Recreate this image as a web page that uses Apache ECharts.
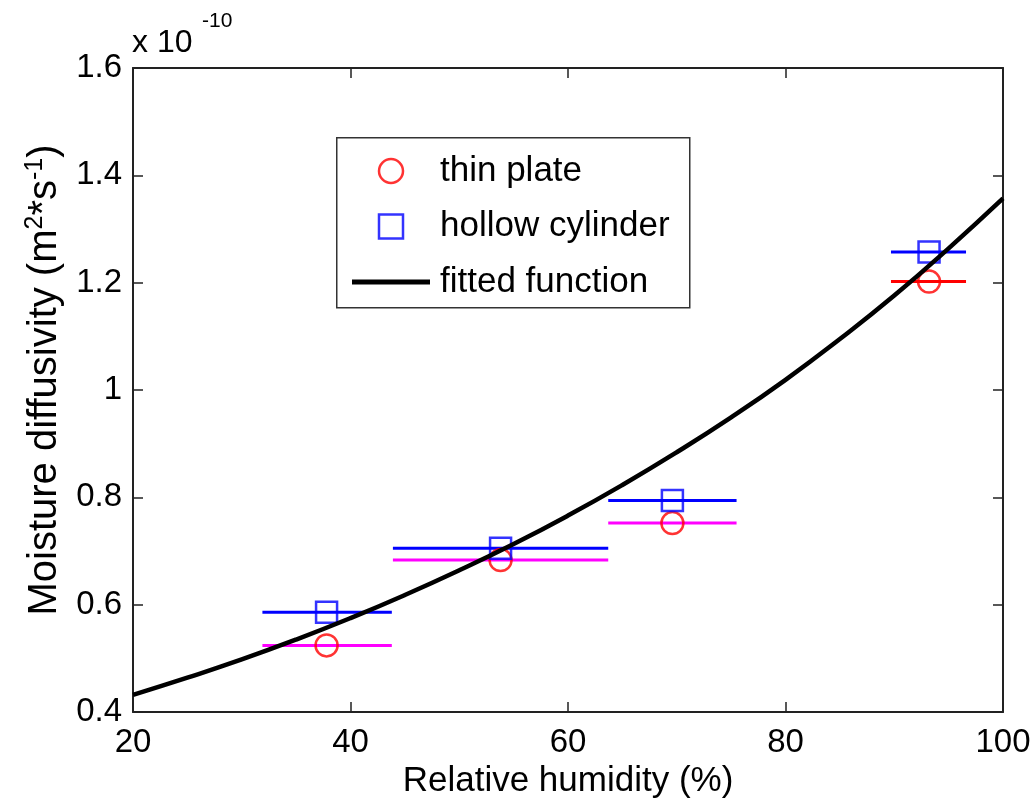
<!DOCTYPE html>
<html>
<head>
<meta charset="utf-8">
<script src="https://cdn.jsdelivr.net/npm/echarts@6/dist/echarts.min.js"></script>
<style>
html,body{margin:0;padding:0;background:#fff;}
#chart{width:1036px;height:801px;}
</style>
</head>
<body>
<div id="chart"></div>
<script>
// ---- data (values in units of 1e-10 m^2/s) ----
const thinX = [37.8, 53.8, 69.6, 93.2];
const thinY = [0.524, 0.683, 0.752, 1.202];
const thinLo = [31.9, 43.9, 63.7, 89.7];
const thinHi = [43.8, 63.7, 75.5, 96.6];

const hollowX = [37.8, 53.8, 69.6, 93.2];
const hollowY = [0.586, 0.705, 0.794, 1.257];
const hollowLo = [31.9, 43.9, 63.7, 89.7];
const hollowHi = [43.8, 63.7, 75.5, 96.6];

const fitX = [20, 25, 30, 35, 40, 45, 50, 55, 60, 65, 70, 75, 80, 85, 90, 95, 100];
const fitY = [0.432, 0.464, 0.498, 0.535, 0.575, 0.618, 0.664, 0.713, 0.766, 0.823, 0.884, 0.949, 1.019, 1.095, 1.176, 1.264, 1.357];

const seriesNames = ['thin plate', 'hollow cylinder', 'fitted function'];
const xTitle = 'Relative humidity (%)';
const yTitle = 'Moisture diffusivity (m{s|2}*s{s|-1})';

// ---- chart ----
const FONT = 'Liberation Sans, Arial, Helvetica, sans-serif';
const thinBarColors = ['#ff00ff', '#ff00ff', '#ff00ff', '#ff0000'];
const hollowBarColor = '#0000ff';

function errData(lo, hi, y) { return y.map((v, i) => [lo[i], hi[i], v]); }
function pairs(x, y) { return x.map((v, i) => [v, y[i]]); }

function errRender(colorFn) {
  return function (params, api) {
    const a = api.coord([api.value(0), api.value(2)]);
    const b = api.coord([api.value(1), api.value(2)]);
    return {
      type: 'line',
      shape: { x1: a[0], y1: a[1], x2: b[0], y2: b[1] },
      style: { stroke: colorFn(params.dataIndex), lineWidth: 3 }
    };
  };
}

const axisLine = { show: true, lineStyle: { color: '#222', width: 2 } };
const tick = { show: true, inside: true, length: 10, lineStyle: { color: '#222', width: 1.5 } };

const chart = echarts.init(document.getElementById('chart'));
chart.setOption({
  animation: false,
  backgroundColor: '#fff',
  grid: { left: 133, right: 33, top: 68, bottom: 89, containLabel: false, outerBoundsMode: 'none' },
  xAxis: [{
    type: 'value', min: 20, max: 100, interval: 20,
    axisLine, axisTick: tick, splitLine: { show: false },
    axisLabel: { color: '#000', fontSize: 33, fontFamily: FONT, margin: 14 },
    name: xTitle, nameLocation: 'middle', nameGap: 47,
    nameTextStyle: { color: '#000', fontSize: 35, fontFamily: FONT }
  }, {
    type: 'value', position: 'top', min: 20, max: 100, interval: 20,
    axisLine, axisTick: tick, axisLabel: { show: false }, splitLine: { show: false }
  }],
  yAxis: [{
    type: 'value', min: 0.4, max: 1.6, interval: 0.2,
    axisLine, axisTick: tick, splitLine: { show: false },
    axisLabel: { color: '#000', fontSize: 33, fontFamily: FONT, margin: 11,
      formatter: v => String(+v.toFixed(1)) },
    name: yTitle, nameLocation: 'middle', nameGap: 64,
    nameTextStyle: { color: '#000', fontSize: 40, fontFamily: FONT, padding: [0, 0, 0, 20],
      rich: { s: { fontSize: 25, fontFamily: FONT, color: '#000', verticalAlign: 'bottom', padding: [0, 0, 20, 0] } } }
  }, {
    type: 'value', position: 'right', min: 0.4, max: 1.6, interval: 0.2,
    axisLine, axisTick: tick, axisLabel: { show: false }, splitLine: { show: false }
  }],
  legend: {
    left: 352, top: 153, orient: 'vertical', padding: 0,
    itemWidth: 78, itemHeight: 24, itemGap: 19.5,
    textStyle: { color: '#000', fontSize: 35, fontFamily: FONT, lineHeight: 36, padding: [0, 0, 0, 5] },
    z: 10,
    data: [
      { name: seriesNames[0], icon: 'circle', itemStyle: { color: 'rgba(0,0,0,0)', borderColor: '#ff0000', borderWidth: 2.5 } },
      { name: seriesNames[1], icon: 'path://M0,0H20V20H0Z', itemStyle: { color: 'rgba(0,0,0,0)', borderColor: '#0000ff', borderWidth: 2.5 } },
      { name: seriesNames[2], icon: 'path://M0,0H78V5H0Z', itemStyle: { color: '#000', borderWidth: 0 } }
    ]
  },
  graphic: [
    { type: 'rect', left: 336, top: 137, z: 5,
      shape: { width: 353, height: 170 },
      style: { fill: '#fff', stroke: '#333', lineWidth: 1.5 } },
    { type: 'text', left: 132, top: 27, z: 5,
      style: { text: 'x 10', fontSize: 32, fontFamily: FONT, fill: '#000' } },
    { type: 'text', left: 202, top: 11, z: 5,
      style: { text: '-10', fontSize: 21, fontFamily: FONT, fill: '#000' } }
  ],
  series: [
    { type: 'custom', name: seriesNames[0] + ' err', z: 2, silent: true,
      renderItem: errRender(i => thinBarColors[i]),
      encode: { x: [0, 1], y: 2 },
      data: errData(thinLo, thinHi, thinY) },
    { type: 'custom', name: seriesNames[1] + ' err', z: 2, silent: true,
      renderItem: errRender(() => hollowBarColor),
      encode: { x: [0, 1], y: 2 },
      data: errData(hollowLo, hollowHi, hollowY) },
    { type: 'scatter', name: seriesNames[0], z: 3, symbol: 'circle', symbolSize: 22,
      itemStyle: { color: 'rgba(0,0,0,0)', borderColor: '#ff0000', borderWidth: 2.5 },
      data: pairs(thinX, thinY) },
    { type: 'scatter', name: seriesNames[1], z: 3, symbol: 'rect', symbolSize: 21,
      itemStyle: { color: 'rgba(0,0,0,0)', borderColor: '#0000ff', borderWidth: 2.5 },
      data: pairs(hollowX, hollowY) },
    { type: 'line', name: seriesNames[2], z: 4, smooth: true, symbol: 'none', showSymbol: false,
      lineStyle: { color: '#000', width: 4.5 }, itemStyle: { color: '#000' },
      data: pairs(fitX, fitY) }
  ]
});
</script>
</body>
</html>
